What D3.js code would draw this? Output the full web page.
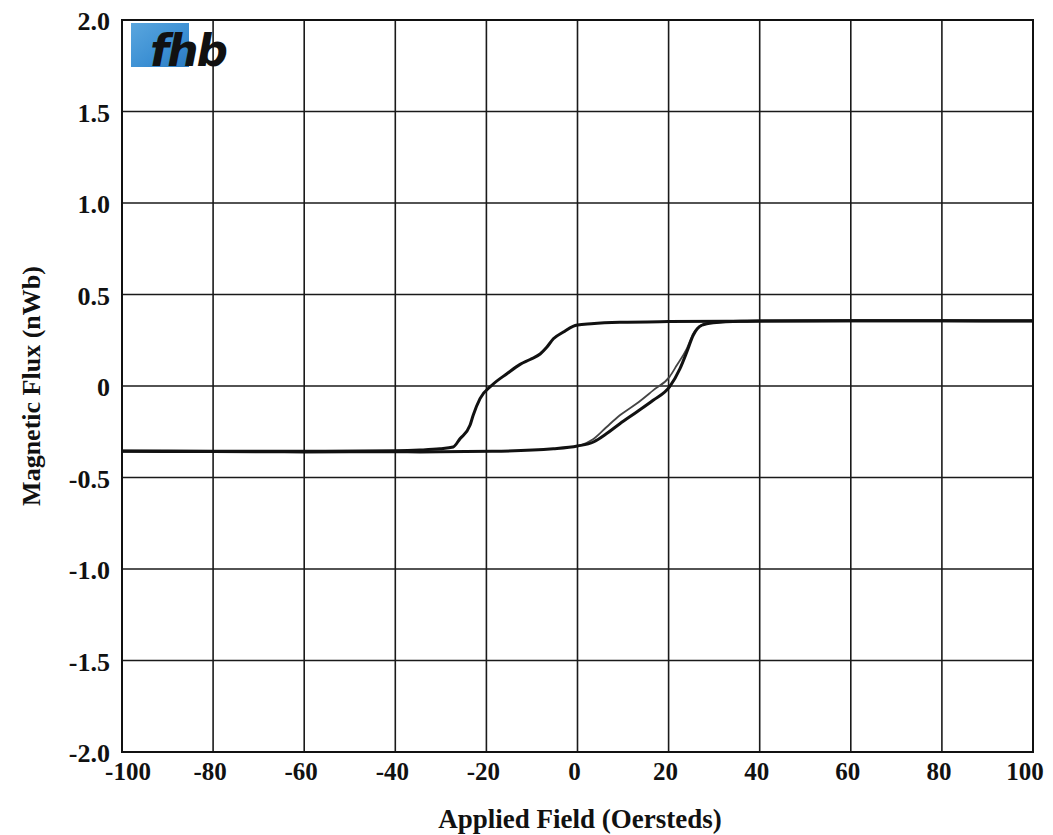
<!doctype html>
<html lang="en">
<head>
<meta charset="UTF-8">
<title>Hysteresis loop</title>
<script src="https://d3js.org/d3.v7.min.js"></script>
<style>
  body { margin: 0; background: #fff; }
  text { font-family: "Liberation Serif", "Times New Roman", serif; font-weight: bold; fill: #111; }
</style>
</head>
<body>
<div id="chart"></div>
<script>
// axis ticks
var xTicks = [-100, -80, -60, -40, -20, 0, 20, 40, 60, 80, 100];
var yTicks = [2.0, 1.5, 1.0, 0.5, 0, -0.5, -1.0, -1.5, -2.0];
var yTickLabels = ["2.0", "1.5", "1.0", "0.5", "0", "-0.5", "-1.0", "-1.5", "-2.0"];

// descending branch (field going from +100 to -100), [Oe, nWb]
var descending = [
  [100, 0.356], [80, 0.357], [60, 0.356], [40, 0.355], [35.7, 0.354], [20, 0.352],
  [9.3, 0.348], [3, 0.34], [0, 0.333], [-1, 0.326], [-3.1, 0.295], [-5.3, 0.258],
  [-6.8, 0.21], [-8.2, 0.175], [-10.4, 0.145], [-12.6, 0.118], [-15.5, 0.067],
  [-18.8, 0.004], [-21.4, -0.069], [-22.9, -0.16], [-23.6, -0.215], [-25.8, -0.288],
  [-27.3, -0.333], [-30.2, -0.343], [-34.6, -0.35], [-40, -0.354], [-60, -0.357],
  [-80, -0.356], [-100, -0.355]
];

// ascending branch, first sweep
var ascending = [
  [-100, -0.357], [-80, -0.358], [-60, -0.36], [-40, -0.359], [-34.6, -0.36],
  [-18.7, -0.357], [-5.3, -0.343], [0, -0.328], [3.5, -0.306], [6.4, -0.26],
  [9.3, -0.206], [13, -0.142], [16.6, -0.078], [20.2, -0.005], [22.5, 0.095],
  [24, 0.186], [25.4, 0.277], [27.3, 0.332], [29.8, 0.346], [35.7, 0.354],
  [50, 0.356], [80, 0.356], [100, 0.355]
];

// ascending branch, second sweep (the lighter trace)
var ascending2 = [
  [0, -0.33], [3.5, -0.29], [6.4, -0.224], [9.3, -0.16], [13, -0.096],
  [16.6, -0.024], [20.2, 0.05], [21.8, 0.113], [24, 0.204], [25.4, 0.286],
  [27.3, 0.334], [29.8, 0.346], [35, 0.352]
];

var width = 1053, height = 835;
var margin = {top: 20, right: 20, bottom: 83, left: 122};

var svg = d3.select("#chart").append("svg")
    .attr("width", width)
    .attr("height", height);

var x = d3.scaleLinear().domain([-100, 100]).range([margin.left, width - margin.right]);
var y = d3.scaleLinear().domain([-2, 2]).range([height - margin.bottom, margin.top]);

// grid
svg.append("g")
    .selectAll("line")
    .data(xTicks)
    .enter().append("line")
    .attr("x1", function(d) { return x(d); })
    .attr("x2", function(d) { return x(d); })
    .attr("y1", y(-2))
    .attr("y2", y(2))
    .attr("stroke", "#1a1a1a")
    .attr("stroke-width", 1.6);

svg.append("g")
    .selectAll("line")
    .data(yTicks)
    .enter().append("line")
    .attr("x1", x(-100))
    .attr("x2", x(100))
    .attr("y1", function(d) { return y(d); })
    .attr("y2", function(d) { return y(d); })
    .attr("stroke", "#1a1a1a")
    .attr("stroke-width", 1.6);

svg.append("rect")
    .attr("x", x(-100))
    .attr("y", y(2))
    .attr("width", x(100) - x(-100))
    .attr("height", y(-2) - y(2))
    .attr("fill", "none")
    .attr("stroke", "#111")
    .attr("stroke-width", 2);

// tick labels
svg.append("g")
    .selectAll("text")
    .data(yTicks)
    .enter().append("text")
    .attr("x", margin.left - 12)
    .attr("y", function(d) { return y(d) + 10; })
    .attr("text-anchor", "end")
    .attr("font-size", 26)
    .text(function(d, i) { return yTickLabels[i]; });

svg.append("g")
    .selectAll("text")
    .data(xTicks)
    .enter().append("text")
    .attr("x", function(d) { return x(d) + (d == -100 ? 6 : d == 100 ? -8 : -3); })
    .attr("y", y(-2) + 28)
    .attr("text-anchor", "middle")
    .attr("font-size", 25)
    .text(function(d) { return d; });

// axis titles
svg.append("text")
    .attr("x", 580)
    .attr("y", 828)
    .attr("text-anchor", "middle")
    .attr("font-size", 27)
    .text("Applied Field (Oersteds)");

svg.append("text")
    .attr("transform", "translate(40," + y(0) + ") rotate(-90)")
    .attr("text-anchor", "middle")
    .attr("font-size", 26)
    .text("Magnetic Flux (nWb)");

// logo in the top-left corner
var grad = svg.append("defs").append("linearGradient")
    .attr("id", "logoBlue")
    .attr("x1", 0).attr("y1", 0).attr("x2", 1).attr("y2", 1);
grad.append("stop").attr("offset", "0%").attr("stop-color", "#5aa6de");
grad.append("stop").attr("offset", "60%").attr("stop-color", "#3b8fd3");
grad.append("stop").attr("offset", "100%").attr("stop-color", "#2c79bf");

svg.append("rect")
    .attr("x", 131).attr("y", 23)
    .attr("width", 58).attr("height", 44)
    .attr("fill", "url(#logoBlue)");

svg.append("text")
    .attr("x", 150)
    .attr("y", 66)
    .attr("font-size", 44)
    .attr("font-style", "italic")
    .attr("letter-spacing", -2)
    .style("font-family", "'DejaVu Sans', sans-serif")
    .style("fill", "#111")
    .text("fhb");

// curves
var line = d3.line()
    .x(function(d) { return x(d[0]); })
    .y(function(d) { return y(d[1]); })
    .curve(d3.curveMonotoneX);

svg.append("path")
    .datum(ascending2)
    .attr("d", line)
    .attr("fill", "none")
    .attr("stroke", "#444")
    .attr("stroke-width", 1.8);

svg.append("path")
    .datum(ascending)
    .attr("d", line)
    .attr("fill", "none")
    .attr("stroke", "#111")
    .attr("stroke-width", 3);

svg.append("path")
    .datum(descending)
    .attr("d", line)
    .attr("fill", "none")
    .attr("stroke", "#111")
    .attr("stroke-width", 3);
</script>
</body>
</html>
